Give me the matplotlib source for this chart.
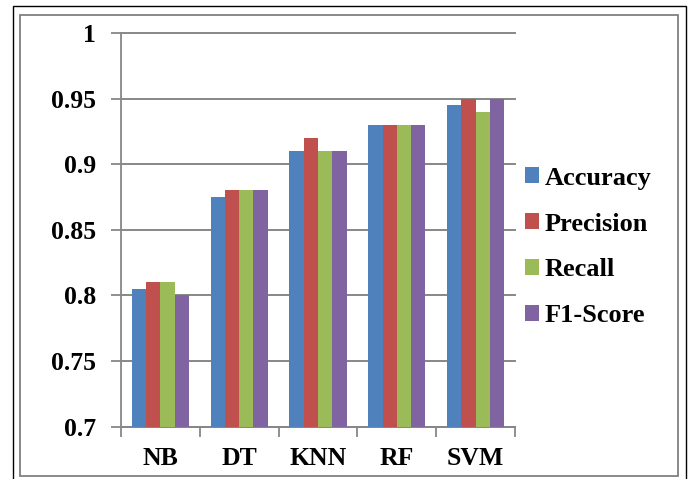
import numpy as np
import matplotlib
matplotlib.use('Agg')
import matplotlib.pyplot as plt
from matplotlib.patches import Rectangle

# values
models = ['NB', 'DT', 'KNN', 'RF', 'SVM']
metrics = ['Accuracy', 'Precision', 'Recall', 'F1-Score']
accuracy = [0.805, 0.875, 0.91, 0.93, 0.945]
precision = [0.81, 0.88, 0.92, 0.93, 0.95]
recall = [0.81, 0.88, 0.91, 0.93, 0.94]
f1_score = [0.80, 0.88, 0.91, 0.93, 0.95]
y_ticks = [0.7, 0.75, 0.8, 0.85, 0.9, 0.95, 1.0]

colors = ['#4F81BD', '#C0504D', '#9BBB59', '#8064A2']
grid_col = '#878787'

plt.rcParams['font.family'] = ['Liberation Serif', 'DejaVu Serif']
plt.rcParams['font.weight'] = 'bold'

fig = plt.figure(figsize=(6.95, 4.79), dpi=100)
ax = fig.add_axes([0.1741, 0.1096, 0.741 - 0.1741, 0.9311 - 0.1096])

x = np.arange(len(models))
w = 0.181
series = [accuracy, precision, recall, f1_score]
for i, vals in enumerate(series):
    ax.bar(x + (i - 1.5) * w, vals, width=w, color=colors[i], label=metrics[i],
           zorder=3, linewidth=0)

ax.set_ylim(0.7, 1.0)
ax.set_xlim(-0.5, len(models) - 0.5)
ax.set_yticks(y_ticks)
ax.set_yticklabels(['{:g}'.format(v) for v in y_ticks])
ax.set_xticks(x)
ax.set_xticklabels(models)
ax.set_xticks(np.arange(-0.5, len(models), 1.0), minor=True)

ax.yaxis.grid(True, color=grid_col, linewidth=1.4, zorder=0)
for gl in ax.get_ygridlines():
    gl.set_clip_on(False)
ax.tick_params(axis='y', length=7, width=1.3, color=grid_col, labelsize=18.5, pad=11)
ax.tick_params(axis='x', which='major', length=0, labelsize=18.5, pad=15)
ax.tick_params(axis='x', which='minor', length=7, width=1.3, color=grid_col)

for s in ['top', 'right']:
    ax.spines[s].set_visible(False)
for s in ['left', 'bottom']:
    ax.spines[s].set_color(grid_col)
    ax.spines[s].set_linewidth(1.3)

leg = ax.legend(loc='center left', bbox_to_anchor=(525 / 695, 1 - 247 / 479),
                bbox_transform=fig.transFigure, frameon=False, fontsize=19,
                handlelength=0.53, handleheight=0.53, handletextpad=0.2,
                labelspacing=0.87, borderaxespad=0, borderpad=0)

# outer and inner frames
fig.add_artist(Rectangle((13 / 695, -0.05), (686 - 13) / 695, 1 - 6 / 479 + 0.05,
                         transform=fig.transFigure, fill=False, edgecolor='black',
                         linewidth=1.0))
fig.add_artist(Rectangle((20 / 695, 1 - 476 / 479), (678 - 20) / 695, (476 - 15) / 479,
                         transform=fig.transFigure, fill=False, edgecolor='#808080',
                         linewidth=1.3))

fig.savefig('out.png', dpi=100)
